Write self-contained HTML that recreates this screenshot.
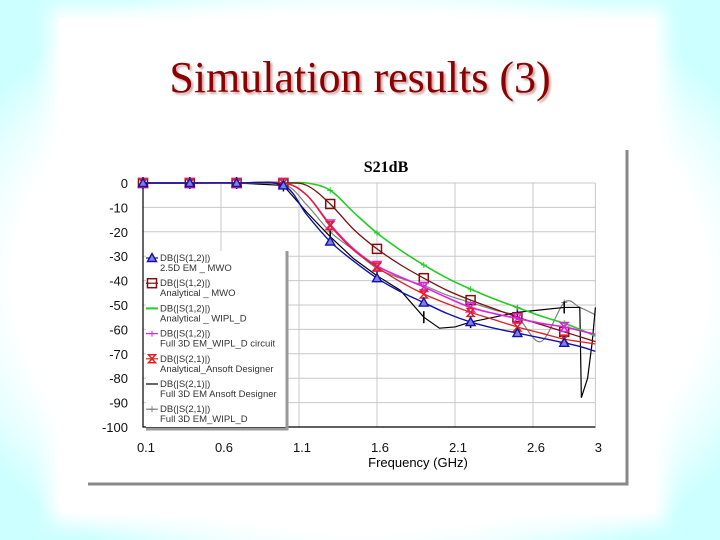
<!DOCTYPE html>
<html><head><meta charset="utf-8">
<style>
html,body{margin:0;padding:0;}
body{width:720px;height:540px;overflow:hidden;position:relative;
background:radial-gradient(ellipse 62% 60% at 50% 52%, #ffffff 78%, #e6ffff 90%, #ccffff 100%);}
#panel{position:absolute;left:60px;top:18px;width:596px;height:496px;background:#fff;box-shadow:0 0 18px 10px #fff;}
#title{position:absolute;left:0;width:720px;top:52px;text-align:center;font-family:"Liberation Serif",serif;font-size:44px;color:#8b0000;text-shadow:2px 2px 2px #c9a0a0;}
svg{position:absolute;left:0;top:0;}
text{font-family:"Liberation Sans",sans-serif;}
text.serif{font-family:"Liberation Serif",serif;}
</style></head><body>
<div id="panel"></div>
<div id="title">Simulation results (3)</div>
<svg id="chart" width="720" height="540"></svg>
<script>
const xTicks=[0.1,0.6,1.1,1.6,2.1,2.6,3];
const xTickLabels=["0.1","0.6","1.1","1.6","2.1","2.6","3"];
const yTicks=[0,-10,-20,-30,-40,-50,-60,-70,-80,-90,-100];
const yTickLabels=["0","-10","-20","-30","-40","-50","-60","-70","-80","-90","-100"];
const freqs=[0.1,0.4,0.7,1.0,1.15,1.3,1.45,1.6,1.75,1.9,2.05,2.2,2.35,2.5,2.65,2.8,2.9,3.0];
const blueVals=[0,0,0,-1,-13,-24,-32,-39,-44.5,-49,-53.5,-57,-59.5,-61.5,-63.5,-65.5,-67,-69];
const greenVals=[0,0,0,0,0,-3,-12,-20.5,-27.5,-33.6,-39,-43.5,-47.5,-51,-54.5,-57.5,-60,-62.7];
const brownVals=[0,0,0,0,-1,-8.6,-19,-27,-33.5,-39,-44,-48,-51.5,-55,-58,-61,-63,-65];
const magentaVals=[0,0,0,0,-5,-17,-27,-34,-38.5,-42.6,-47,-51,-53.5,-55.5,-57.5,-59,-60.5,-62];
const redVals=[0,0,0,0,-5,-17.5,-27.5,-34.5,-40.5,-45.5,-49.5,-53,-56,-59,-61.5,-64,-65,-66];
const grayVals=[0,0,0,-0.5,-9,-20,-27.5,-35,-39,-42,-46,-49,-52,-55,-65,-49,-51,-54];
const blackFreqs=[0.1,0.4,0.7,1.0,1.15,1.3,1.45,1.6,1.75,1.9,2.0,2.1,2.2,2.35,2.5,2.65,2.8,2.9,2.91,2.95,2.98,3.0];
const blackVals=[0,0,0,-1,-12,-22,-31,-38,-44,-55,-59.5,-59,-57,-55,-53,-52,-51,-51,-88,-80,-65,-51];
const markerFreqs=[0.1,0.4,0.7,1.0,1.3,1.6,1.9,2.2,2.5,2.8];

const NS="http://www.w3.org/2000/svg";
const svg=document.getElementById('chart');
const X=f=>143+(f-0.1)*156;
const Y=v=>183-v*2.44;
function el(tag,attrs,parent){const e=document.createElementNS(NS,tag);for(const k in attrs)e.setAttribute(k,attrs[k]);(parent||svg).appendChild(e);return e;}

let fr=el('path',{d:'M88,484 H627 V150',fill:'none',stroke:'#888',"stroke-width":3});


yTicks.forEach((v,i)=>{
  const g=el('line',{x1:X(0.1),x2:X(3),y1:Y(v),y2:Y(v),stroke:'#c8c8c8','stroke-width':1});
  
  
  const t=el('text',{x:128,y:Y(v)+5,'text-anchor':'end','font-size':13,fill:'#111'});
  t.textContent=yTickLabels[i];
  
  
});
xTicks.forEach((f,i)=>{
  const g=el('line',{x1:X(f),x2:X(f),y1:Y(0),y2:Y(-100),stroke:'#c8c8c8','stroke-width':1});
  
  
  const t=el('text',{x:X(f)+3,y:452,'text-anchor':'middle','font-size':13,fill:'#111'});
  t.textContent=xTickLabels[i];
  
  
});
let ax=el('path',{d:`M${X(0.1)},${Y(0)} V${Y(-100)} H${X(3)}`,fill:'none',stroke:'#000','stroke-width':1.2});


let ct=el('text',{x:386,y:172,'text-anchor':'middle','font-size':16,'font-weight':'bold','class':'serif'});
ct.textContent='S21dB';


let xt=el('text',{x:418,y:467,'text-anchor':'middle','font-size':13});
xt.textContent='Frequency (GHz)';



function smooth(pts){
  let d=`M${pts[0][0]},${pts[0][1]}`;
  for(let i=0;i<pts.length-1;i++){
    const p0=pts[i-1]||pts[i],p1=pts[i],p2=pts[i+1],p3=pts[i+2]||p2;
    const c1=[p1[0]+(p2[0]-p0[0])/6,p1[1]+(p2[1]-p0[1])/6];
    const c2=[p2[0]-(p3[0]-p1[0])/6,p2[1]-(p3[1]-p1[1])/6];
    d+=` C${c1[0]},${c1[1]} ${c2[0]},${c2[1]} ${p2[0]},${p2[1]}`;
  }
  return d;
}
function interp(xs,vs,f){for(let i=0;i<xs.length-1;i++){if(f>=xs[i]&&f<=xs[i+1]){const t=(f-xs[i])/(xs[i+1]-xs[i]);return vs[i]+t*(vs[i+1]-vs[i]);}}return vs[vs.length-1];}
function marker(type,cx,cy,color,g){
  if(type==='tri')el('path',{d:`M${cx},${cy-4.5} L${cx+4.5},${cy+3.5} L${cx-4.5},${cy+3.5}Z`,fill:'#8080e0',stroke:color,'stroke-width':1.4},g);
  else if(type==='sq')el('rect',{x:cx-4.5,y:cy-4.5,width:9,height:9,fill:'none',stroke:color,'stroke-width':1.5},g);
  else if(type==='hg')el('path',{d:`M${cx-4},${cy-4.5} H${cx+4} L${cx-4},${cy+4.5} H${cx+4}Z`,fill:'none',stroke:color,'stroke-width':1.5},g);
  else if(type==='hgf')el('path',{d:`M${cx-3.5},${cy-4} H${cx+3.5} L${cx-3.5},${cy+4} H${cx+3.5}Z`,fill:'none',stroke:color,'stroke-width':1.5},g);
  else if(type==='plus')el('path',{d:`M${cx},${cy-6} V${cy+6}`,stroke:color,'stroke-width':1.5},g);
  else if(type==='tick')el('path',{d:`M${cx-3},${cy} H${cx+3} M${cx},${cy-3} V${cy+3}`,stroke:color,'stroke-width':1},g);
}
function series(name,xs,vs,color,w,mtype,sm){
  const g=el('g',{});
  
  
  const pts=xs.map((f,i)=>[X(f),Y(vs[i])]);
  const d=sm?smooth(pts):'M'+pts.map(p=>p.join(',')).join(' L');
  el('path',{d:d,fill:'none',stroke:color,'stroke-width':w},g);
  markerFreqs.forEach(f=>marker(mtype,X(f),Y(interp(xs,vs,f)),color,g));
}
series('series-full3d-wipl',freqs,grayVals,'#808080',1.2,'tick',true);
series('series-full3d-ansoft',blackFreqs,blackVals,'#000000',1.2,'plus',false);
series('series-analytical-wipl',freqs,greenVals,'#22cc22',1.6,'tick',true);
series('series-analytical-mwo',freqs,brownVals,'#7a1010',1.3,'sq',true);
series('series-full3d-wipl-circuit',freqs,magentaVals,'#e020e0',1.6,'hg',true);
series('series-analytical-ansoft',freqs,redVals,'#e02020',1.3,'hgf',true);
series('series-2-5d-em-mwo',freqs,blueVals,'#1010b0',1.4,'tri',true);

const legendLabels=[["DB(|S(1,2)|)","2.5D EM _ MWO"],["DB(|S(1,2)|)","Analytical _ MWO"],["DB(|S(1,2)|)","Analytical _ WIPL_D"],["DB(|S(1,2)|)","Full 3D EM_WIPL_D circuit"],["DB(|S(2,1)|)","Analytical_Ansoft Designer"],["DB(|S(2,1)|)","Full 3D EM Ansoft Designer"],["DB(|S(2,1)|)","Full 3D EM_WIPL_D"]];
const legendColors=['#1010b0','#7a1010','#22cc22','#e020e0','#e02020','#000000','#808080'];
const legendMarkers=['tri','sq','none','tick','hgf','none','tick'];
const lg=el('g',{});


el('rect',{x:146,y:251,width:140,height:176,fill:'#fff'},lg);
el('path',{d:'M287,251 V429 H146',fill:'none',stroke:'#999','stroke-width':3},lg);
legendLabels.forEach((lb,i)=>{
  const e=el('g',{},lg);
  
  
  const y=258+i*25.2;
  el('line',{x1:146,x2:158,y1:y,y2:y,stroke:legendColors[i],'stroke-width':i===2?2:1.2},e);
  if(legendMarkers[i]!=='none')marker(legendMarkers[i],152,y,legendColors[i],e);
  const t1=el('text',{x:160,y:y+3,'font-size':9.5,fill:'#333'},e);t1.textContent=lb[0];
  const t2=el('text',{x:160,y:y+13,'font-size':9.5,fill:'#333'},e);t2.textContent=lb[1];
});
</script>
</body></html>
